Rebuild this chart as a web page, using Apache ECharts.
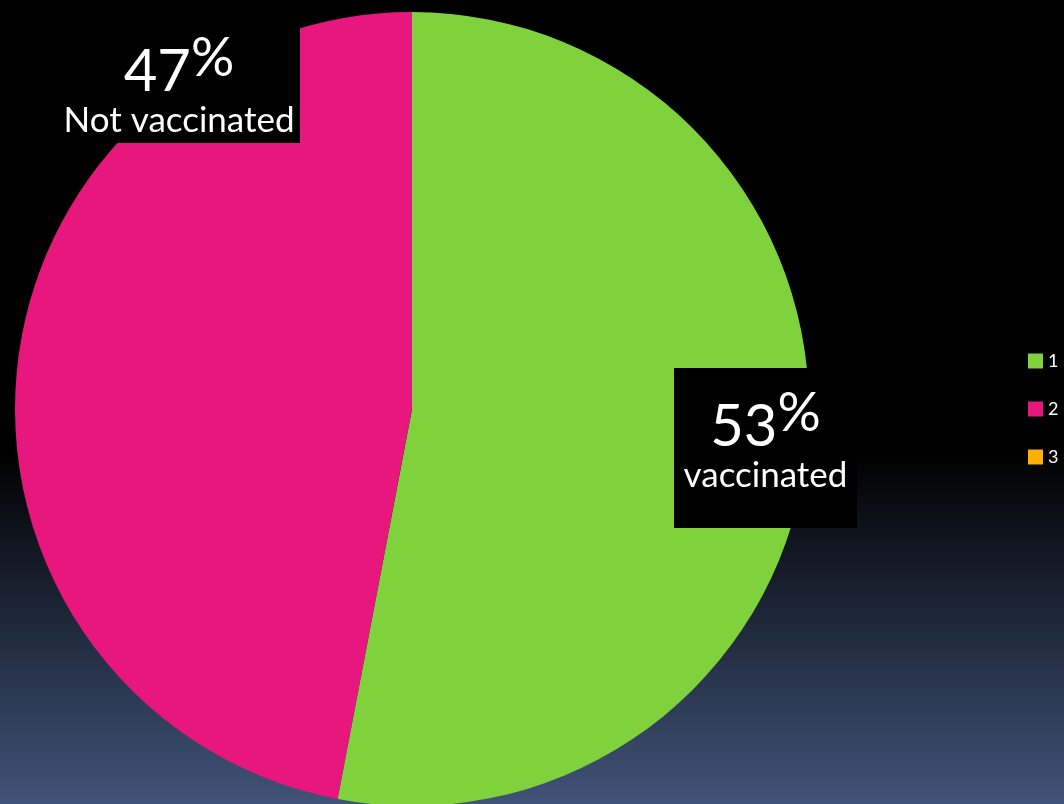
<!DOCTYPE html>
<html>
<head>
<meta charset="utf-8">
<script src="https://cdn.jsdelivr.net/npm/echarts@6/dist/echarts.min.js"></script>
<style>html,body{margin:0;padding:0;background:#000;}#c{width:1064px;height:804px;}</style>
</head>
<body>
<div id="c"></div>
<script>
var categories = ['1', '2', '3'];
var values = [53, 47, 0];
var percentTexts = ['53', '47', ''];
var labelTexts = ['vaccinated', 'Not vaccinated', ''];
var colors = ['#7fd23c', '#e8177d', '#ffb000'];

var labelPos = [
  { x: 765.5, y: 448 },
  { x: 179, y: 66.5 }
];
var labelBox = [
  { w: 183, pad: [32, 0, 30, 0] },
  { w: 242, pad: [55, 0, 0, 0] }
];

var chart = echarts.init(document.getElementById('c'));
var data = categories.map(function (c, i) {
  var d = { name: c, value: values[i], itemStyle: { color: colors[i] } };
  if (!labelTexts[i]) {
    d.label = { show: false };
  } else {
    d.label = {
      show: true,
      formatter: '{n|' + percentTexts[i] + '}{p|%}\n{t|' + labelTexts[i] + '}',
      backgroundColor: '#000',
      width: labelBox[i].w,
      padding: labelBox[i].pad,
      align: 'center'
    };
  }
  return d;
});

chart.setOption({
  backgroundColor: {
    type: 'linear', x: 0, y: 0, x2: 0, y2: 1,
    colorStops: [
      { offset: 0, color: '#000000' },
      { offset: 0.56, color: '#000000' },
      { offset: 1, color: '#405378' }
    ]
  },
  animation: false,
  legend: {
    orient: 'vertical',
    left: 1023,
    top: 347,
    itemWidth: 15,
    itemHeight: 15,
    itemGap: 30,
    icon: 'rect',
    data: categories,
    textStyle: { color: '#ffffff', fontSize: 18, fontFamily: 'Lato' }
  },
  series: [{
    type: 'pie',
    center: [412, 409],
    radius: 397,
    startAngle: 90,
    clockwise: true,
    minAngle: 0,
    emphasis: { disabled: true },
    labelLine: { show: false },
    label: {
      position: 'inside',
      color: '#fff',
      fontFamily: 'Lato',
      rich: {
        n: { fontSize: 58, color: '#fff', fontFamily: 'Lato', lineHeight: 54 },
        p: { fontSize: 54, color: '#fff', fontFamily: 'Lato', lineHeight: 28, padding: [0, 0, 26, 0] },
        t: { fontSize: 35, color: '#fff', fontFamily: 'Lato', lineHeight: 44 }
      }
    },
    labelLayout: function (params) {
      var p = labelPos[params.dataIndex];
      if (!p) return {};
      return { x: p.x, y: p.y, align: 'center', verticalAlign: 'middle' };
    },
    data: data
  }]
});
</script>
</body>
</html>
